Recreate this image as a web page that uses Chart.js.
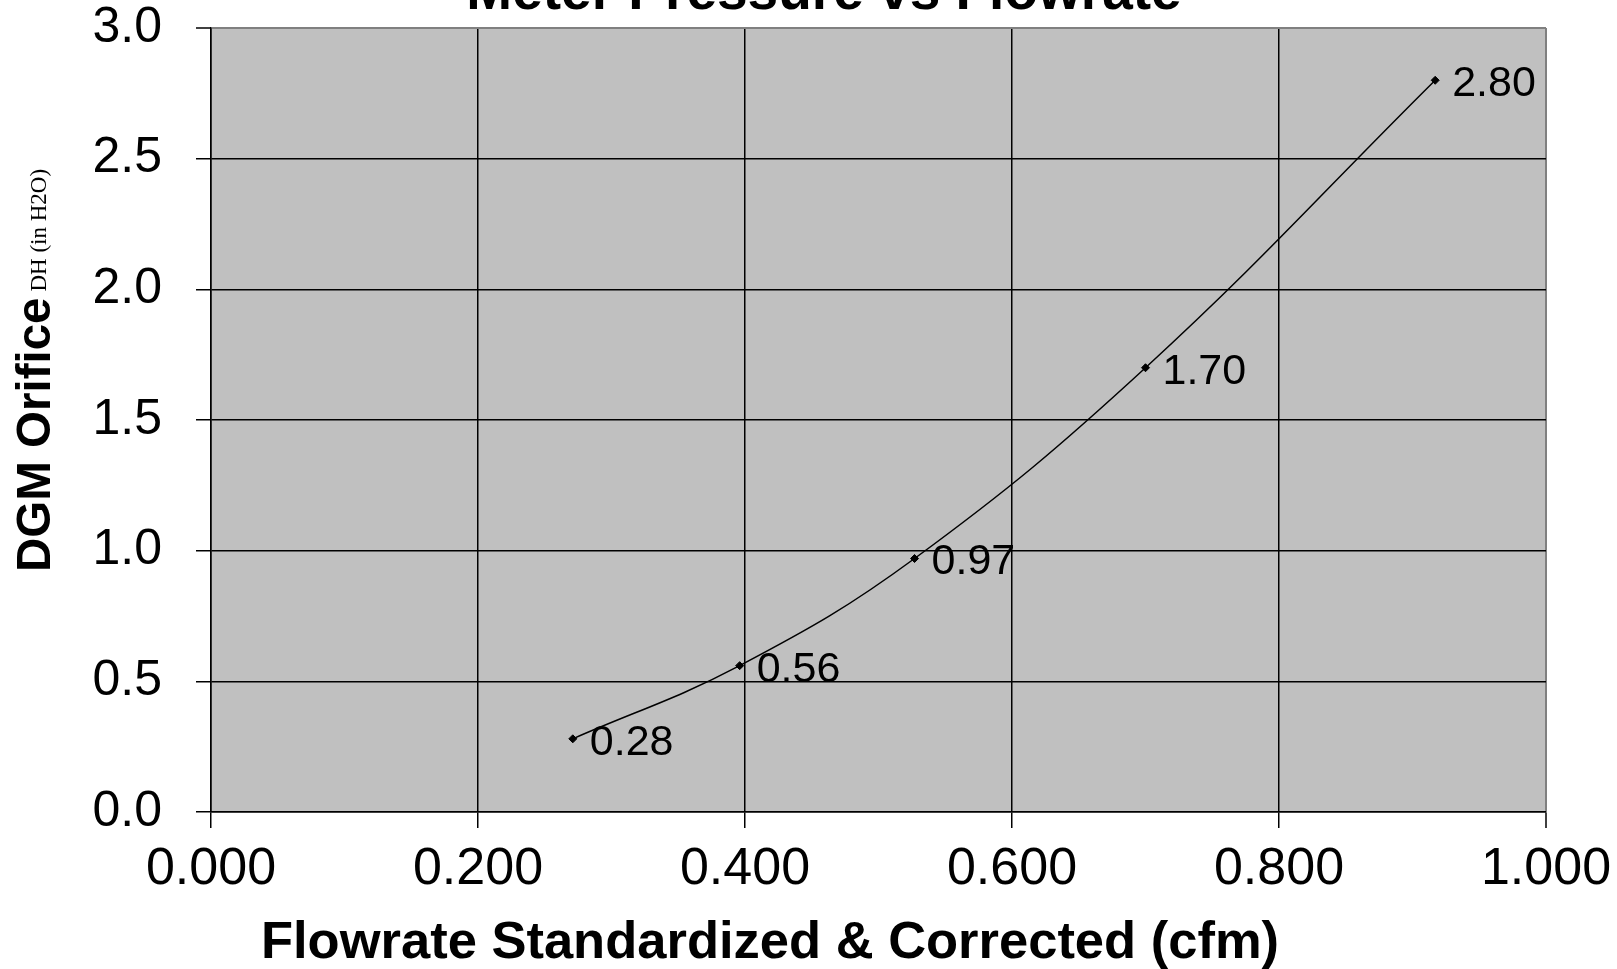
<!DOCTYPE html>
<html><head><meta charset="utf-8">
<script src="https://cdn.jsdelivr.net/npm/chart.js@4/dist/chart.umd.min.js"></script>
<style>html,body{margin:0;padding:0;background:#fff;overflow:hidden}</style>
</head><body>
<canvas id="c" width="1617" height="969" style="display:block"></canvas>
<script>
const flowrate = [0.271, 0.396, 0.527, 0.700, 0.917];
const pressure = [0.28, 0.56, 0.97, 1.70, 2.80];
const pointLabels = ['0.28', '0.56', '0.97', '1.70', '2.80'];
const chartTitle = 'Meter Pressure vs Flowrate';
const xTitle = 'Flowrate Standardized & Corrected (cfm)';
const yTitleMain = 'DGM Orifice';
const yTitleSub = 'DH (in H2O)';

const SANS = '"Liberation Sans", Arial, sans-serif';
const SERIF = '"Liberation Serif", "Times New Roman", serif';

const points = flowrate.map((x, i) => ({x: x, y: pressure[i]}));

const customPlugin = {
  id: 'custom',
  beforeDraw(chart) {
    const {ctx, chartArea: a} = chart;
    ctx.save();
    ctx.fillStyle = '#C0C0C0';
    ctx.fillRect(a.left, a.top, a.right - a.left, a.bottom - a.top);
    ctx.restore();
  },
  afterDatasetsDraw(chart) {
    const {ctx} = chart;
    const meta = chart.getDatasetMeta(0);
    ctx.save();
    ctx.font = '43px ' + SANS;
    ctx.fillStyle = '#000';
    ctx.textAlign = 'left';
    ctx.textBaseline = 'middle';
    meta.data.forEach((el, i) => {
      ctx.fillText(pointLabels[i], el.x + 17, el.y + 4);
    });
    ctx.restore();
  },
  afterDraw(chart) {
    const {ctx} = chart;
    ctx.save();
    ctx.fillStyle = '#000';
    // chart title (cut off at top)
    ctx.font = 'bold 55px ' + SANS;
    ctx.textAlign = 'center';
    ctx.textBaseline = 'alphabetic';
    ctx.fillText(chartTitle, 824, 9);
    // x axis title
    ctx.font = 'bold 52.5px ' + SANS;
    ctx.fillText(xTitle, 770, 958);
    ctx.restore();
    // y axis title
    ctx.save();
    ctx.fillStyle = '#000';
    ctx.textBaseline = 'alphabetic';
    ctx.translate(50, 572);
    ctx.rotate(-Math.PI / 2);
    ctx.textAlign = 'left';
    ctx.font = 'bold 47.5px ' + SANS;
    ctx.fillText(yTitleMain, 0, 0);
    const w1 = ctx.measureText(yTitleMain).width;
    ctx.font = '23px ' + SERIF;
    ctx.fillText(yTitleSub, w1 + 6, -4);
    ctx.restore();
  }
};

new Chart(document.getElementById('c'), {
  type: 'scatter',
  data: {
    datasets: [{
      data: points,
      showLine: true,
      borderColor: '#000',
      borderWidth: 1.5,
      tension: 0.4,
      pointStyle: 'rectRot',
      pointRadius: 4,
      pointBackgroundColor: '#000',
      pointBorderColor: '#000',
      pointBorderWidth: 1
    }]
  },
  options: {
    responsive: false,
    devicePixelRatio: 1,
    animation: false,
    layout: {padding: {left: 0, top: 28, right: 71, bottom: 0}},
    plugins: {legend: {display: false}, tooltip: {enabled: false}, title: {display: false}},
    scales: {
      x: {
        type: 'linear', min: 0, max: 1,
        afterFit: s => { s.height = 157; s.paddingLeft = 0; s.paddingRight = 0; },
        ticks: {
          stepSize: 0.2,
          callback: v => Number(v).toFixed(3),
          font: {family: SANS, size: 52},
          color: '#000',
          padding: 10,
          maxRotation: 0
        },
        grid: {
          color: c => (c.tick && Math.abs(c.tick.value - 1) < 1e-9) ? '#808080' : '#000',
          lineWidth: c => (c.tick && Math.abs(c.tick.value - 1) < 1e-9) ? 2 : 1.5,
          tickColor: '#000',
          tickLength: 16,
          tickWidth: 1.5
        },
        border: {color: '#000', width: 1.5}
      },
      y: {
        type: 'linear', min: 0, max: 3,
        afterFit: s => { s.width = 211; s.paddingTop = 0; s.paddingBottom = 0; },
        ticks: {
          stepSize: 0.5,
          callback: v => Number(v).toFixed(1),
          font: {family: SANS, size: 50},
          color: '#000',
          padding: 34
        },
        grid: {
          color: c => (c.tick && Math.abs(c.tick.value - 3) < 1e-9) ? '#808080' : '#000',
          lineWidth: c => (c.tick && Math.abs(c.tick.value - 3) < 1e-9) ? 2 : 1.5,
          tickColor: '#000',
          tickLength: 15,
          tickWidth: 1.5
        },
        border: {color: '#000', width: 1.5}
      }
    }
  },
  plugins: [customPlugin]
});
</script>
</body></html>
